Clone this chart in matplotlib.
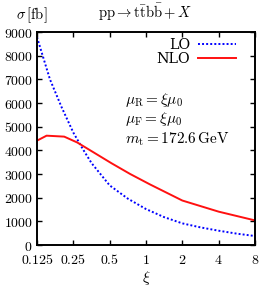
import numpy as np
import matplotlib
matplotlib.use('Agg')
import matplotlib.pyplot as plt

plt.rcParams['mathtext.fontset'] = 'cm'
plt.rcParams['font.family'] = 'serif'
plt.rcParams['font.serif'] = ['DejaVu Serif']

# DATA
xi_lo = [0.125, 0.16, 0.2, 0.25, 0.3, 0.354, 0.5, 0.707, 1, 1.41, 2, 2.83, 4, 5.66, 8]
sigma_lo = [8780, 7000, 5820, 4750, 4050, 3460, 2520, 1960, 1520, 1180, 915, 745, 605, 480, 380]
xi_nlo = [0.125, 0.15, 0.21, 0.27, 0.52, 0.74, 1.08, 2, 4, 8]
sigma_nlo = [4410, 4620, 4580, 4330, 3450, 3000, 2560, 1880, 1410, 1040]
xticks = [0.125, 0.25, 0.5, 1, 2, 4, 8]
xtick_labels = ['0.125', '0.25', '0.5', '1', '2', '4', '8']
yticks = [0, 1000, 2000, 3000, 4000, 5000, 6000, 7000, 8000, 9000]

fig = plt.figure(figsize=(2.61, 2.89), dpi=100)
ax = fig.add_axes([0.1418, 0.1522, 0.835, 0.737])

ax.plot(xi_lo, sigma_lo, color='blue', linestyle=(0, (1, 1.1)), lw=1.4, label='LO')
ax.plot(xi_nlo, sigma_nlo, color='#ff1010', lw=1.4, label='NLO')

ax.set_xscale('log', base=2)
ax.set_xlim(0.125, 8)
ax.set_ylim(0, 9000)
ax.set_xticks(xticks)
ax.set_xticklabels(['$%s$' % t for t in xtick_labels])
ax.minorticks_off()
ax.set_yticks(yticks)
ax.set_yticklabels(['$%d$' % t for t in yticks])
ax.tick_params(direction='in', top=True, right=True, labelsize=10, length=3.6, width=1, pad=3)
ax.tick_params(axis='x', pad=6)
for s in ax.spines.values():
    s.set_linewidth(1.4)

ax.set_xlabel(r'$\xi$', fontsize=11, labelpad=1)
fig.text(0.06, 0.948, r'$\sigma\,[\mathrm{fb}]$', fontsize=10.5, va='center')
fig.text(0.556, 0.958, r'$\mathrm{pp}\rightarrow\mathrm{t\bar{t}b\bar{b}}+X$', fontsize=10.5,
         ha='center', va='center')

ax.legend(loc='upper right', frameon=False, markerfirst=False, fontsize=10.3,
          handlelength=2.7, borderaxespad=0.2, borderpad=0.2, labelspacing=0.05, handletextpad=0.5,
          bbox_to_anchor=(0.94, 1.0))

ax.text(0.404, 0.681, r'$\mu_{\rm R}=\xi\mu_0$', transform=ax.transAxes, fontsize=11, va='center')
ax.text(0.404, 0.592, r'$\mu_{\rm F}=\xi\mu_0$', transform=ax.transAxes, fontsize=11, va='center')
ax.text(0.404, 0.498, r'$m_{\rm t}=172.6\,\mathrm{GeV}$', transform=ax.transAxes, fontsize=11, va='center')

fig.savefig('out.png', dpi=100)
